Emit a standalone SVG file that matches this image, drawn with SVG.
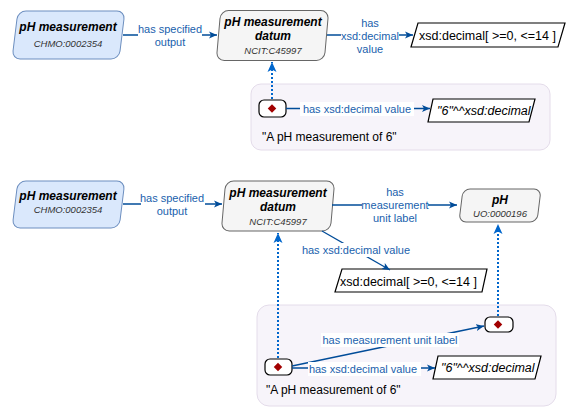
<svg xmlns="http://www.w3.org/2000/svg" width="576" height="417" viewBox="0 0 576 417">
<defs>
<marker id="arr" markerWidth="10" markerHeight="8" refX="8" refY="4" orient="auto" markerUnits="userSpaceOnUse">
<path d="M0,0.5 L8,4 L0,7.5 L2,4 z" fill="#004C99"/>
</marker>
<marker id="arrd" markerWidth="12" markerHeight="10" refX="10" refY="5" orient="auto" markerUnits="userSpaceOnUse">
<path d="M0,0.5 L10,5 L0,9.5 L2.5,5 z" fill="#0066CC"/>
</marker>
</defs>
<style>
text{font-family:"Liberation Sans",Arial,sans-serif}
.t{font-size:12px;font-weight:bold;font-style:italic;fill:#000;text-anchor:middle}
.s{font-size:9.5px;font-style:italic;fill:#333;text-anchor:middle}
.lbl{font-size:11px;fill:#1a5fad;text-anchor:middle}
.lit{font-size:12.5px;fill:#000}
.e{fill:none;stroke:#004C99;stroke-width:1.3}
.d{fill:none;stroke:#0066CC;stroke-width:2;stroke-dasharray:2 2}
.cls{fill:#dae8fc;stroke:#6c8ebf;stroke-width:1}
.dat{fill:#f5f5f5;stroke:#666;stroke-width:1}
.lp{fill:#fff;stroke:#000;stroke-width:1.2}
.grp{fill:#f7f4fa;stroke:#e4dcea;stroke-width:1}
.ind{fill:#fff;stroke:#000;stroke-width:1.2}
.dia{fill:#a20000}
.bg{fill:#fff}
</style>

<!-- groups (containers) -->
<g id="group1"><rect class="grp" x="251" y="84" width="299" height="66" rx="10"/>
<text class="lit" x="262" y="141" style="font-size:12px">"A pH measurement of 6"</text></g>
<g id="group2"><rect class="grp" x="257" y="305" width="299" height="101" rx="12"/>
<text class="lit" x="266" y="394" style="font-size:12px">"A pH measurement of 6"</text></g>

<!-- top section nodes -->
<g id="pHm1"><rect class="cls" x="-53.5" y="-24" width="107" height="48" rx="8" transform="translate(68.5,35) skewX(-7)"/>
<text class="t" x="68" y="35" dy="-4">pH measurement</text><text class="s" x="68" y="47">CHMO:0002354</text></g>
<g id="datum1"><rect class="dat" x="-54" y="-25" width="108" height="50" rx="8" transform="translate(272.5,35.5) skewX(-5)"/>
<text class="t" x="273" y="26">pH measurement</text><text class="t" x="273" y="40">datum</text><text class="s" x="273" y="54">NCIT:C45997</text></g>
<g id="xsd1"><polygon class="lp" points="418,23 565,23 558,47 411,47"/>
<text class="lit" x="419" y="40">xsd:decimal[ &gt;=0, &lt;=14 ]</text></g>
<g id="ind1"><rect class="ind" x="259" y="100" width="27" height="17" rx="5"/><rect class="dia" x="269" y="105.5" width="6" height="6" transform="rotate(45,272,108.5)"/></g>
<g id="lit1"><polygon class="lp" points="433,99 535,99 529,122 428,122"/>
<text class="lit" x="437" y="115" style="font-style:italic">"6"^^xsd:decimal</text></g>

<!-- bottom section nodes -->
<g id="pHm2"><rect class="cls" x="-53.5" y="-23.5" width="107" height="47" rx="8" transform="translate(68.5,204.5) skewX(-7)"/>
<text class="t" x="68" y="200">pH measurement</text><text class="s" x="68" y="213">CHMO:0002354</text></g>
<g id="datum2"><rect class="dat" x="-54.5" y="-25" width="109" height="50" rx="8" transform="translate(278,206) skewX(-5)"/>
<text class="t" x="278" y="197">pH measurement</text><text class="t" x="278" y="211">datum</text><text class="s" x="278" y="225">NCIT:C45997</text></g>
<g id="pH"><rect class="dat" x="-39" y="-16.5" width="78" height="33" rx="7" transform="translate(500,205.5) skewX(-7)"/>
<text class="t" x="500" y="204">pH</text><text class="s" x="500" y="217">UO:0000196</text></g>
<g id="xsd2"><polygon class="lp" points="342,269 487,269 482,292 335,292"/>
<text class="lit" x="340" y="286">xsd:decimal[ &gt;=0, &lt;=14 ]</text></g>
<g id="ind2"><rect class="ind" x="265" y="359" width="27" height="16" rx="5"/><rect class="dia" x="275" y="364" width="6" height="6" transform="rotate(45,278,367)"/></g>
<g id="ind3"><rect class="ind" x="485" y="317" width="28" height="15" rx="5"/><rect class="dia" x="495" y="321.5" width="6" height="6" transform="rotate(45,498,324.5)"/></g>
<g id="lit2"><polygon class="lp" points="438,356 541,356 535,379 433,379"/>
<text class="lit" x="441" y="372" style="font-style:italic">"6"^^xsd:decimal</text></g>

<!-- connectors -->
<g id="connectors">
<line class="e" x1="123" y1="35" x2="217" y2="35" marker-end="url(#arr)"/>
<rect class="bg" x="138" y="24" width="64" height="24"/>
<text class="lbl" x="170" y="33">has specified</text><text class="lbl" x="170" y="46">output</text>

<line class="e" x1="327" y1="35" x2="413" y2="35" marker-end="url(#arr)"/>
<rect class="bg" x="341" y="16" width="58" height="38"/>
<text class="lbl" x="370" y="27">has</text><text class="lbl" x="370" y="40">xsd:decimal</text><text class="lbl" x="370" y="53">value</text>

<line class="d" x1="272" y1="99" x2="272" y2="62" marker-end="url(#arrd)"/>
<line class="e" x1="286" y1="108.5" x2="430" y2="108.5" marker-end="url(#arr)"/>
<rect class="bg" x="300" y="102" width="114" height="14"/>
<text class="lbl" x="357" y="113">has xsd:decimal value</text>

<line class="e" x1="123" y1="204" x2="222" y2="204" marker-end="url(#arr)"/>
<rect class="bg" x="141" y="193" width="64" height="24"/>
<text class="lbl" x="172" y="202">has specified</text><text class="lbl" x="172" y="215">output</text>

<line class="e" x1="332" y1="205" x2="457" y2="205" marker-end="url(#arr)"/>
<rect class="bg" x="362" y="186" width="66" height="38"/>
<text class="lbl" x="395" y="196">has</text><text class="lbl" x="395" y="209">measurement</text><text class="lbl" x="395" y="222">unit label</text>

<line class="e" x1="322" y1="231" x2="390" y2="270" marker-end="url(#arr)"/>
<rect class="bg" x="300" y="243" width="113" height="14"/>
<text class="lbl" x="356" y="254">has xsd:decimal value</text>

<line class="d" x1="278" y1="358" x2="278" y2="233" marker-end="url(#arrd)"/>
<line class="d" x1="498" y1="316" x2="498" y2="224" marker-end="url(#arrd)"/>

<line class="e" x1="292" y1="366" x2="484" y2="326" marker-end="url(#arr)"/>
<rect class="bg" x="321" y="333" width="138" height="14"/>
<text class="lbl" x="390" y="344">has measurement unit label</text>

<line class="e" x1="292" y1="368" x2="435" y2="368" marker-end="url(#arr)"/>
<rect class="bg" x="308" y="362" width="113" height="14"/>
<text class="lbl" x="363" y="373">has xsd:decimal value</text>
</g>
</svg>
